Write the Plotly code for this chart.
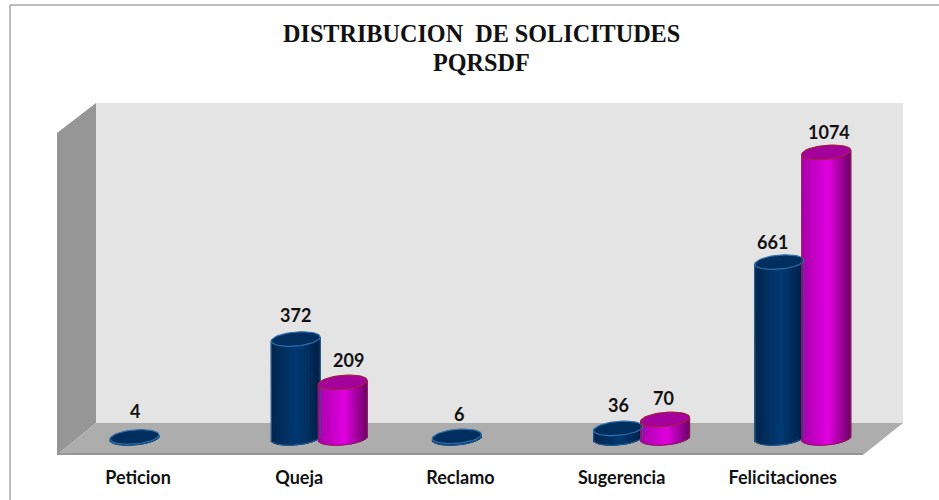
import math
import plotly.graph_objects as go

categories = ["Peticion", "Queja", "Reclamo", "Sugerencia", "Felicitaciones"]
serie_azul = [4, 372, 6, 36, 661]
serie_magenta = [None, 209, None, 70, 1074]
titulo_1 = "DISTRIBUCION  DE SOLICITUDES"
titulo_2 = "PQRSDF"

W, H = 939, 500
PX_PER_UNIT = 0.266
Y0_PX = 438
PLOT_BOTTOM_PX = 465
X0_PX, DX_PX = 158.0, 161.2
BAR_PX = 49.0
OFFSET_PX = 23.5
LABEL_SHIFT_PX = -20.0
RY_PX, TILT_PX = 7.0, 2.0
N = 26

w = BAR_PX / DX_PX
off = OFFSET_PX / DX_PX
ry = RY_PX / PX_PER_UNIT
tilt = TILT_PX / PX_PER_UNIT


def hex2rgb(h):
    return [int(h[i:i + 2], 16) for i in (1, 3, 5)]


def shade(t, left, mid, right):
    a, b = (left, mid) if t < 0.1 else (mid, right)
    f = (t + 1) / 1.1 if t < 0.1 else (t - 0.1) / 0.9
    ca, cb = hex2rgb(a), hex2rgb(b)
    return "rgb(%d,%d,%d)" % tuple(round(x + (y - x) * f) for x, y in zip(ca, cb))


def body_trace(values, shift, cols, name):
    xs, ys, bases, colors = [], [], [], []
    for i, v in enumerate(values):
        if v is None:
            continue
        for k in range(N):
            t = -1 + (2 * k + 1) / N
            bottom = -math.sqrt(1 - t * t) * ry + tilt * t
            top = v + tilt * t
            xs.append(i + shift + t * w / 2)
            ys.append(top - bottom)
            bases.append(bottom)
            colors.append(shade(t, *cols))
    return go.Bar(x=xs, y=ys, base=bases, width=w / N, name=name,
                  marker=dict(color=colors, line=dict(width=1, color=colors)),
                  hoverinfo="skip", showlegend=False)


def outline_trace(values, shift, color):
    xs, ys = [], []
    for i, v in enumerate(values):
        if v is None:
            continue
        cx = i + shift
        xs.append(cx - w / 2)
        ys.append(v - tilt)
        for d in range(180, 361, 10):
            a = math.radians(d)
            xs.append(cx + math.cos(a) * w / 2)
            ys.append(math.sin(a) * ry + tilt * math.cos(a))
        xs.append(cx + w / 2)
        ys.append(v + tilt)
        xs.append(None)
        ys.append(None)
    return go.Scatter(x=xs, y=ys, mode="lines", line=dict(color=color, width=1),
                      hoverinfo="skip", showlegend=False)


def cap_trace(values, shift, fill, rim):
    xs, ys = [], []
    for i, v in enumerate(values):
        if v is None:
            continue
        cx = i + shift
        for d in range(0, 361, 8):
            a = math.radians(d)
            xs.append(cx + math.cos(a) * w / 2)
            ys.append(v + math.sin(a) * ry + tilt * math.cos(a))
        xs.append(None)
        ys.append(None)
    return go.Scatter(x=xs, y=ys, mode="lines", fill="toself", fillcolor=fill,
                      line=dict(color=rim, width=1.2), hoverinfo="skip", showlegend=False)


BLUE = ("#00264e", "#003a73", "#001f45")
MAG = ("#a800a8", "#e000e0", "#6e0068")

fig = go.Figure()
fig.add_trace(body_trace(serie_azul, -off, BLUE, "Azul"))
fig.add_trace(body_trace(serie_magenta, off, MAG, "Magenta"))
fig.add_trace(outline_trace(serie_azul, -off, "#1f5c94"))
fig.add_trace(cap_trace(serie_azul, -off, "#002f5f", "#2f6fa8"))
fig.add_trace(outline_trace(serie_magenta, off, "#8a1a50"))
fig.add_trace(cap_trace(serie_magenta, off, "#a3009c", "#a02040"))


def px(x):
    return x / W


def py(y):
    return 1 - y / H


def poly(pts, fill):
    path = "M " + " L ".join("%.5f,%.5f" % (px(a), py(b)) for a, b in pts) + " Z"
    return dict(type="path", xref="paper", yref="paper", path=path, fillcolor=fill,
                line=dict(width=0), layer="below")


frame = dict(color="#a6a6a6", width=1.5)
shapes = [
    dict(type="line", xref="paper", yref="paper", x0=px(10), x1=1, y0=py(5), y1=py(5), line=frame, layer="below"),
    dict(type="line", xref="paper", yref="paper", x0=px(10), x1=px(10), y0=py(5), y1=0, line=frame, layer="below"),
    poly([(96, 103), (903, 103), (903, 423), (96, 423)], "#e4e4e4"),
    poly([(57, 133), (96, 103), (96, 423), (57, 455)], "#969696"),
    poly([(57, 455), (96, 423), (903, 423), (863, 455)], "#adadad"),
    dict(type="line", xref="paper", yref="paper", x0=px(57), x1=px(863), y0=py(454), y1=py(454),
         line=dict(color="#8f8f8f", width=1.5), layer="below"),
]

annotations = []
nudges_azul = [(0, -6), (0, -4), (2, -2), (0, -3), (-7, 0)]
nudges_mag = [(0, 0), (6, -2), (0, 0), (-2, -1), (3, 0)]
for vals, shift, nudges in ((serie_azul, -off, nudges_azul), (serie_magenta, off, nudges_mag)):
    for i, v in enumerate(vals):
        if v is None:
            continue
        annotations.append(dict(x=i + shift, y=v, text="<b>%d</b>" % v, showarrow=False,
                                xshift=nudges[i][0], yshift=20 - nudges[i][1],
                                font=dict(family="Lato", size=18, color="#111111")))
for text, y_px in ((titulo_1, 33), (titulo_2, 62)):
    annotations.append(dict(xref="paper", yref="paper", x=481 / W, y=py(y_px), text="<b>%s</b>" % text,
                            showarrow=False, xanchor="center", yanchor="middle",
                            font=dict(family="Liberation Serif", size=24.2, color="#111111")))

fig.update_layout(
    width=W, height=H, autosize=False,
    margin=dict(l=0, r=0, t=0, b=0),
    paper_bgcolor="white", plot_bgcolor="rgba(0,0,0,0)",
    barmode="overlay", showlegend=False, shapes=shapes, annotations=annotations,
    xaxis=dict(range=[-X0_PX / DX_PX, (W - X0_PX) / DX_PX], domain=[0, 1], showgrid=False, zeroline=False,
               showline=False, ticks="", tickmode="array",
               tickvals=[i + LABEL_SHIFT_PX / DX_PX for i in range(len(categories))],
               ticktext=["<b>%s</b>" % c for c in categories], ticklabelstandoff=0,
               tickfont=dict(family="Lato", size=18, color="#111111"), fixedrange=True),
    yaxis=dict(range=[(Y0_PX - PLOT_BOTTOM_PX) / PX_PER_UNIT, Y0_PX / PX_PER_UNIT],
               domain=[1 - PLOT_BOTTOM_PX / H, 1], showgrid=False, zeroline=False, showline=False,
               showticklabels=False, ticks="", fixedrange=True),
)
fig.write_html("out.html", config={"displayModeBar": False},
               post_script="document.body.style.margin='0';")
